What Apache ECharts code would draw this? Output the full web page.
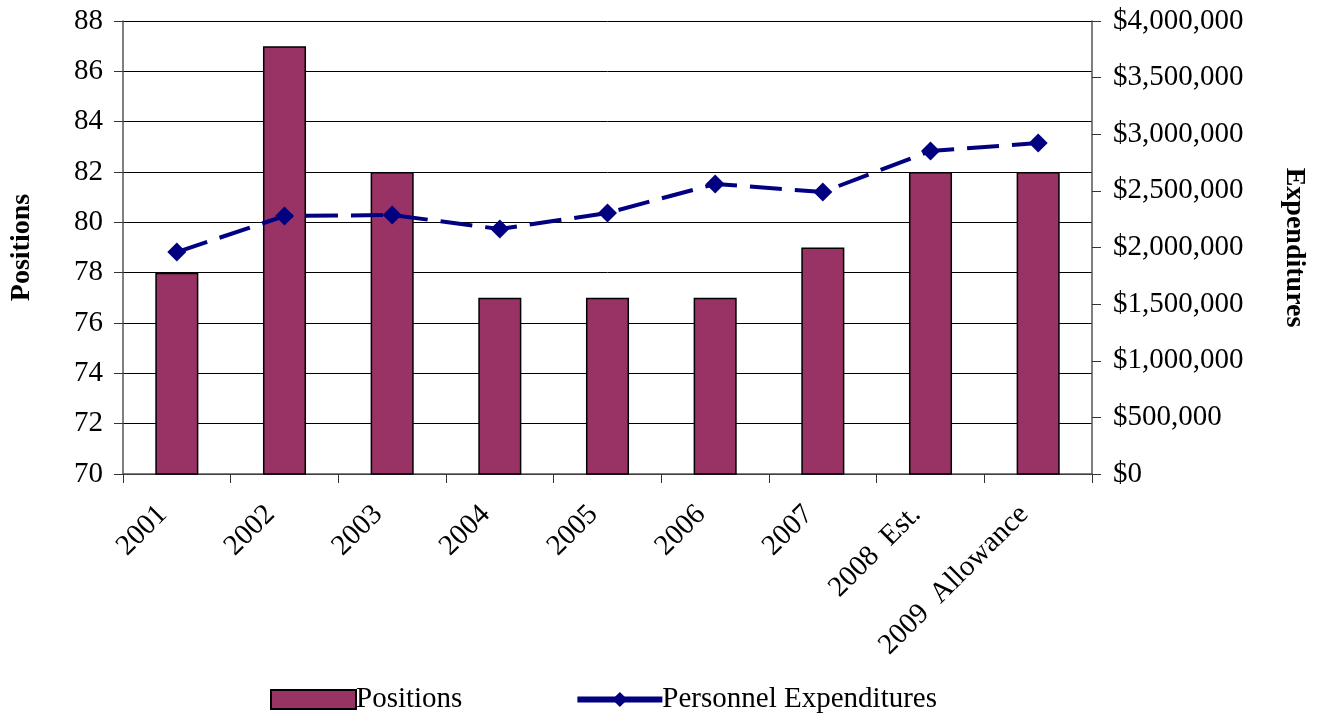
<!DOCTYPE html>
<html lang="en">
<head>
    <meta charset="UTF-8">
    <title>Positions and Personnel Expenditures</title>
    <script src="https://cdn.jsdelivr.net/npm/echarts@6/dist/echarts.min.js"></script>
    <style>
        html, body {
            margin: 0;
            height: 100%;
            background: #fff;
        }
    </style>
</head>
<body>
<div id="main" style="width: 1319px;height: 714px"></div>
</body>
</html>
<script>
    // data
    var years = ['2001', '2002', '2003', '2004', '2005', '2006', '2007', '2008  Est.', '2009  Allowance'];
    var positions = [78, 87, 82, 77, 77, 77, 79, 82, 82];
    var expenditures = [1960000, 2278000, 2287000, 2163000, 2305000, 2561000, 2490000, 2852000, 2923000];

    var font = 'Liberation Serif';
    var myChart = echarts.init(document.getElementById('main'));

    var option = {
        animation: false,
        textStyle: {fontFamily: font, color: '#000'},
        grid: {left: 123, right: 227, top: 21, bottom: 240, outerBoundsMode: 'none', containLabel: false},
        legend: {
            left: 265,
            top: 680,
            itemWidth: 85,
            itemHeight: 19,
            itemGap: 112,
            textStyle: {fontFamily: font, fontSize: 29, color: '#000', padding: [0, 0, 0, -5]},
            data: [
                {name: 'Positions', icon: 'rect', itemStyle: {borderColor: '#000', borderWidth: 2}},
                {name: 'Personnel Expenditures', lineStyle: {width: 6, type: 'solid'}}
            ]
        },
        xAxis: {
            type: 'category',
            data: years,
            axisLine: {lineStyle: {color: '#555', width: 1.5}},
            axisTick: {show: true, length: 9, lineStyle: {color: '#333'}},
            axisLabel: {rotate: 45, fontSize: 29, color: '#000', fontFamily: font, margin: 22, padding: [0, 20, 0, 0]}
        },
        yAxis: [
            {
                type: 'value',
                min: 70,
                max: 88,
                interval: 2,
                name: 'Positions',
                nameLocation: 'middle',
                nameGap: 87,
                nameTextStyle: {fontFamily: font, fontSize: 28, fontWeight: 'bold', color: '#000'},
                axisLine: {show: true, lineStyle: {color: '#555', width: 1.5}},
                axisTick: {show: true, length: 9, lineStyle: {color: '#333'}},
                axisLabel: {fontSize: 29, color: '#000', fontFamily: font, margin: 20},
                splitLine: {lineStyle: {color: '#000', width: 1}}
            },
            {
                type: 'value',
                min: 0,
                max: 4000000,
                interval: 500000,
                name: 'Expenditures',
                nameLocation: 'middle',
                nameGap: 188,
                nameRotate: -90,
                nameTextStyle: {fontFamily: font, fontSize: 28, fontWeight: 'bold', color: '#000'},
                axisLine: {show: true, lineStyle: {color: '#555', width: 1.5}},
                axisTick: {show: true, length: 9, lineStyle: {color: '#333'}},
                axisLabel: {
                    fontSize: 29, color: '#000', fontFamily: font, margin: 21,
                    formatter: function (v) {
                        return '$' + v.toLocaleString('en-US');
                    }
                },
                splitLine: {show: false}
            }
        ],
        series: [
            {
                name: 'Positions',
                type: 'bar',
                yAxisIndex: 0,
                barWidth: '40%',
                itemStyle: {color: '#993366', borderColor: '#000', borderWidth: 1.5},
                data: positions
            },
            {
                name: 'Personnel Expenditures',
                type: 'line',
                yAxisIndex: 1,
                symbol: 'diamond',
                symbolSize: 19,
                itemStyle: {color: '#000080'},
                lineStyle: {color: '#000080', width: 4, type: [32, 13]},
                data: expenditures
            }
        ]
    };
    myChart.setOption(option);
</script>
